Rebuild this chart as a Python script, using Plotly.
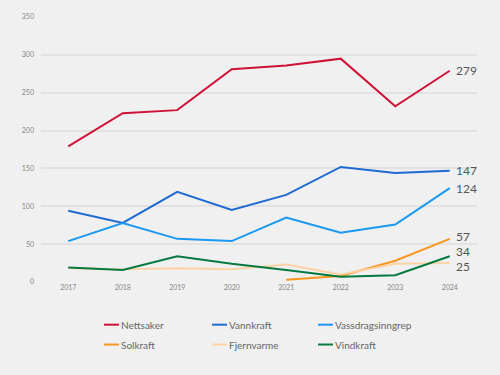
import plotly.graph_objects as go

years = ["2017", "2018", "2019", "2020", "2021", "2022", "2023", "2024"]
nettsaker = [179, 223, 227, 281, 286, 295, 232, 279]
vannkraft = [94, 78, 119, 95, 115, 152, 144, 147]
vassdrag = [54, 78, 57, 54, 85, 65, 76, 124]
solkraft = [None, None, None, None, 3, 8, 28, 57]
fjernvarme = [18, 17, 18, 17, 23, 10, 24, 25]
vindkraft = [19, 16, 34, 24, 16, 7, 9, 34]

names = ["Nettsaker", "Vannkraft", "Vassdragsinngrep", "Solkraft", "Fjernvarme", "Vindkraft"]
series = [nettsaker, vannkraft, vassdrag, solkraft, fjernvarme, vindkraft]
colors = ["#cf1137", "#1f6ad2", "#1a98f2", "#f7951f", "#fdd3a6", "#047a3f"]
label_shift = {"Nettsaker": 0, "Vannkraft": 0, "Vassdragsinngrep": 0, "Solkraft": 2.5,
               "Fjernvarme": -3, "Vindkraft": 5}

FONT = "Lato, 'Open Sans', sans-serif"

fig = go.Figure()
for n, s, c in zip(names, series, colors):
    fig.add_trace(go.Scatter(x=years, y=s, name=n, mode="lines",
                             line=dict(color=c, width=2), showlegend=False,
                             hoverinfo="skip"))

last = len(years) - 1
for n, s in zip(names, series):
    fig.add_annotation(x=last, y=s[-1], text=str(s[-1]), xref="x", yref="y",
                       xanchor="left", yanchor="middle", xshift=5, yshift=label_shift[n],
                       showarrow=False, borderpad=0,
                       font=dict(family=FONT, size=12, color="#555"))

# custom legend
leg_x = [104, 212, 318]
leg_y = [325, 345]
W, H = 500, 375
ml, mr, mt, mb = 41, 23, 15, 93
pw, ph = W - ml - mr, H - mt - mb
for i, (n, c) in enumerate(zip(names, colors)):
    px = leg_x[i % 3]
    py = leg_y[i // 3]
    x0 = (px - ml) / pw
    x1 = (px + 15 - ml) / pw
    yy = (H - mb - py) / ph
    fig.add_shape(type="line", xref="paper", yref="paper", x0=x0, x1=x1, y0=yy, y1=yy,
                  line=dict(color=c, width=2))
    fig.add_annotation(xref="paper", yref="paper", x=x1, y=yy, text=n, showarrow=False,
                       xanchor="left", yanchor="middle", xshift=0,
                       font=dict(family=FONT, size=10, color="#666"))

fig.update_layout(
    width=W, height=H,
    margin=dict(l=ml, r=mr, t=mt, b=mb),
    paper_bgcolor="#f0f0f0", plot_bgcolor="#f0f0f0",
    font=dict(family=FONT),
    xaxis=dict(type="category", range=[-0.5, 7.5], showgrid=False, zeroline=False,
               showline=False, ticks="", tickfont=dict(size=7, color="#888")),
    yaxis=dict(range=[0, 350], dtick=50, showgrid=True, gridcolor="#e2e2e2", gridwidth=2,
               zeroline=False, showline=False, ticks="", ticklabelstandoff=6,
               tickfont=dict(size=7, color="#888")),
)

fig.write_html("out.html", config={"displayModeBar": False},
               post_script="document.body.style.margin='0';document.body.style.background='#f0f0f0';")
